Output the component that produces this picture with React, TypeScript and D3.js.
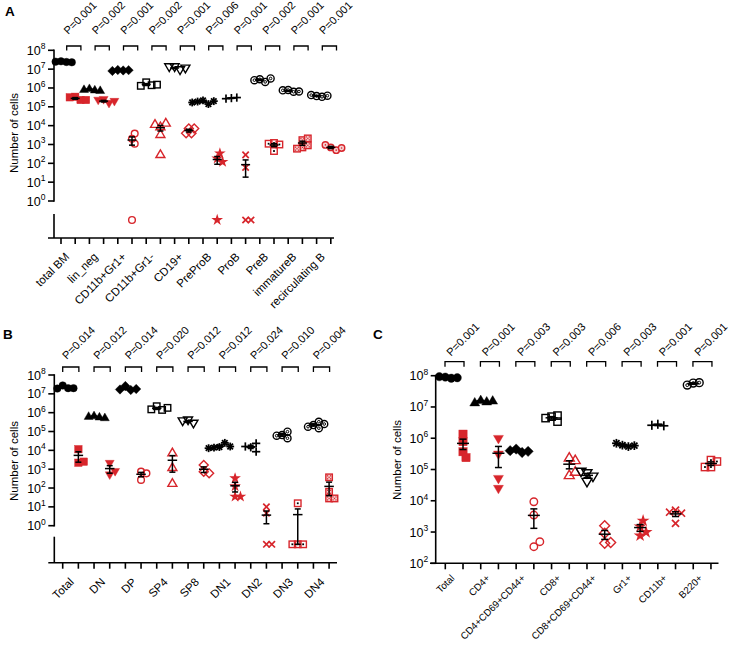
import React from "react";
import * as d3 from "d3";

const RED = "#d7252b";
const FONT = "'Liberation Sans', Arial, Helvetica, sans-serif";

// ---------- Panel A data ----------
const catsA = ["total BM", "lin_neg", "CD11b+Gr1+", "CD11b+Gr1-", "CD19+", "PreProB", "ProB", "PreB", "immatureB", "recirculating B"];
const ctrlA = [
  [2.6e7, 2.4e7, 2.5e7, 2.3e7],
  [9.5e5, 8e5, 8.5e5, 7.5e5],
  [9e6, 8.5e6, 8e6, 8.8e6],
  [2e6, 1.4e6, 1.3e6, 1.5e6],
  [1.3e7, 9e6, 1.3e7, 1.1e7],
  [2.2e5, 1.4e5, 1.9e5, 2.0e5, 1.7e5],
  [2.9e5, 3.1e5, 2.7e5],
  [2.9e6, 2.1e6, 2.6e6, 3.2e6],
  [7.8e5, 6.3e5, 7.5e5, 6.5e5],
  [3.7e5, 3.4e5, 4.2e5, 3.9e5],
];
const koA = [
  [3.4e5, 2.3e5, 3.2e5, 2.3e5],
  [2.4e5, 1.5e5, 2.2e5, 1.9e5],
  [2000, 1100, 3800, 0],
  [9000, 14000, 3500, 300, 12000],
  [7100, 7100, 3900, 3900],
  [180, 340, 120, 0],
  [280, 60, 0, 0],
  [1200, 1000, 450, 1100],
  [1700, 2100, 700, 900, 600],
  [700, 500, 950, 650],
];
const pA = ["0.001", "0.002", "0.001", "0.002", "0.001", "0.006", "0.001", "0.002", "0.001", "0.001"];

// ---------- Panel B data ----------
const catsB = ["Total", "DN", "DP", "SP4", "SP8", "DN1", "DN2", "DN3", "DN4"];
const ctrlB = [
  [2.8e7, 2e7, 1.9e7, 2e7],
  [7e5, 6e5, 6.5e5, 5.5e5],
  [2.6e7, 1.6e7, 1.7e7, 1.8e7],
  [2.2e6, 1.4e6, 1.5e6, 1.8e6],
  [4e5, 2.7e5, 3.6e5],
  [1.5e4, 2.5e4, 1.4e4, 1.6e4, 1.3e4],
  [1.45e4, 2.35e4, 8500, 1.6e4],
  [6.5e4, 9.8e4, 4.4e4, 6e4],
  [2.2e5, 3.3e5, 1.8e5, 1.5e5, 2.5e5],
];
const koB = [
  [11500, 2200, 2500],
  [2000, 490, 740],
  [740, 600, 270],
  [7500, 1250, 180],
  [1650, 740, 600],
  [125, 330, 35, 35],
  [10, 4.6, 0, 0],
  [15.5, 0, 0, 0],
  [370, 63, 28, 28],
];
const pB = ["0.014", "0.012", "0.014", "0.020", "0.012", "0.012", "0.024", "0.010", "0.004"];

// ---------- Panel C data ----------
const catsC = ["Total", "CD4+", "CD4+CD69+CD44+", "CD8+", "CD8+CD69+CD44+", "Gr1+", "CD11b+", "B220+"];
const ctrlC = [
  [9e7, 8.3e7, 9.3e7, 8.6e7],
  [1.66e7, 1.5e7, 1.4e7, 1.6e7],
  [4.5e5, 3.5e5, 4e5, 3.8e5],
  [4.9e6, 5.3e6, 3.4e6, 4.4e6],
  [7.6e4, 5.9e4, 8.5e4, 4e4],
  [6e5, 5.4e5, 6.9e5, 5.8e5],
  [2.8e6, 2.5e6, 2.6e6],
  [5.8e7, 6e7, 5e7],
];
const koC = [
  [1.35e6, 7.8e5, 3.7e5, 2.4e5],
  [9.5e5, 5e4, 2.4e4, 3e5],
  [9300, 3500, 340, 490],
  [2.4e5, 2e5, 6.6e4, 8.5e4],
  [1600, 910, 440, 460],
  [1500, 2300, 770, 990],
  [5000, 4000, 4300, 1900],
  [2e5, 1.8e5, 1.2e5, 1.2e5],
];
const pC = ["0.001", "0.001", "0.003", "0.003", "0.006", "0.003", "0.001", "0.001"];

// ---------- layouts ----------
const layoutA = {
  letter: "A", letterX: 5, letterY: 16,
  x0: 61, step: 14.2, yAxisX: 54, yTop: 50.3, yBottom: 201, minDec: 0,
  breakTop: 214, zeroY: 220, axisY: 238, axisX0: 48, axisX1: 334,
  bracketY: 46, bracketH: 4.5, bracketL: 5.7, bracketR: 5.7,
  pDx: 1.5, pDy: -11, pFont: 11,
  labelDx: 2, labelDy: 19.5, labelFont: 11.5,
  titleX: 17.5, titleY: 133,
  s: 7.5, meanW: 9, capW: 6, tickLen: 6,
};
const layoutB = {
  letter: "B", letterX: 3, letterY: 339,
  x0: 62.7, step: 15.67, yAxisX: 54.3, yTop: 375, yBottom: 525.7, minDec: 0,
  breakTop: 536.7, zeroY: 544.3, axisY: 562.7, axisX0: 48.3, axisX1: 337,
  bracketY: 367, bracketH: 5, bracketL: 0, bracketR: 0.5,
  pDx: 4, pDy: -7, pFont: 11,
  labelDx: 4, labelDy: 20, labelFont: 11.5,
  titleX: 17.5, titleY: 461,
  s: 7.5, meanW: 9.5, capW: 6, tickLen: 6,
};
const layoutC = {
  letter: "C", letterX: 373, letterY: 339,
  x0: 445.3, step: 17.71, yAxisX: 435.7, yTop: 375.7, yBottom: 563.3, minDec: 2,
  breakTop: null, zeroY: null, axisY: 563.3, axisX0: 430, axisX1: 718.5,
  bracketY: 361.7, bracketH: 5, bracketL: -0.3, bracketR: 1,
  pDx: 6, pDy: -5, pFont: 11,
  labelDx: 1, labelDy: 15.5, labelFont: 9.8,
  titleX: 401, titleY: 460,
  s: 8.3, meanW: 12, capW: 7, tickLen: 5,
};

function triPts(x: number, y: number, h: number, dir: number) {
  const a = h * 1.2;
  return `${x},${y - dir * a} ${x - a},${y + dir * h * 0.85} ${x + a},${y + dir * h * 0.85}`;
}
function diaPts(x: number, y: number, h: number) {
  return `${x},${y - h} ${x + h},${y} ${x},${y + h} ${x - h},${y}`;
}

function Marker({ shape, x, y, s, color }: any) {
  const h = s / 2;
  const sw = 1.4;
  const open = { fill: "none", stroke: color, strokeWidth: sw };
  const solid = { fill: color, stroke: color, strokeWidth: 0.4 };
  switch (shape) {
    case 0:
      return <circle cx={x} cy={y} r={h} {...solid} />;
    case 1:
      return <rect x={x - h} y={y - h} width={s} height={s} {...solid} />;
    case 2:
      return <polygon points={triPts(x, y, h, 1)} {...solid} />;
    case 3:
      return <polygon points={triPts(x, y, h, -1)} {...solid} />;
    case 4:
      return <polygon points={diaPts(x, y, h * 1.25)} {...solid} />;
    case 5:
      return <circle cx={x} cy={y} r={h - sw / 2 + 0.3} {...open} />;
    case 6:
      return <rect x={x - h + 0.5} y={y - h + 0.5} width={s - 1} height={s - 1} {...open} />;
    case 7:
      return <polygon points={triPts(x, y, h, 1)} {...open} />;
    case 8:
      return <polygon points={triPts(x, y, h, -1)} {...open} />;
    case 9:
      return <polygon points={diaPts(x, y, h * 1.2)} {...open} />;
    case 10: {
      const r = h * 1.05;
      return (
        <g stroke={color} strokeWidth={1.8}>
          {[0, 45, 90, 135].map((a) => {
            const rad = (a * Math.PI) / 180;
            return <line key={a} x1={x - r * Math.cos(rad)} y1={y - r * Math.sin(rad)} x2={x + r * Math.cos(rad)} y2={y + r * Math.sin(rad)} />;
          })}
        </g>
      );
    }
    case 11: {
      const p = d3.symbol().type(d3.symbolStar).size(s * s * 0.75)() as string;
      return <path d={p} transform={`translate(${x},${y})`} fill={color} />;
    }
    case 12:
      return (
        <g stroke={color} strokeWidth={1.7}>
          <line x1={x - h * 1.1} y1={y} x2={x + h * 1.1} y2={y} />
          <line x1={x} y1={y - h * 1.1} x2={x} y2={y + h * 1.1} />
        </g>
      );
    case 13:
      return (
        <g stroke={color} strokeWidth={1.7}>
          <line x1={x - h * 0.85} y1={y - h * 0.85} x2={x + h * 0.85} y2={y + h * 0.85} />
          <line x1={x - h * 0.85} y1={y + h * 0.85} x2={x + h * 0.85} y2={y - h * 0.85} />
        </g>
      );
    case 14:
    case 16:
    case 18:
      return (
        <g {...open}>
          <circle cx={x} cy={y} r={h - 0.2} />
          <circle cx={x} cy={y} r={h * 0.35} strokeWidth={1} />
        </g>
      );
    case 15:
      return (
        <g>
          <rect x={x - h + 0.5} y={y - h + 0.5} width={s - 1} height={s - 1} {...open} />
          <rect x={x - 0.9} y={y - 0.9} width={1.8} height={1.8} fill="#000" />
        </g>
      );
    case 17:
      return (
        <g>
          <rect x={x - h + 0.5} y={y - h + 0.5} width={s - 1} height={s - 1} {...open} fill="#f3c9ca" />
          {[[-1, -1], [1, -1], [-1, 1], [1, 1], [0, 0]].map(([a, b], i) => (
            <rect key={i} x={x + a * h * 0.4 - 0.6} y={y + b * h * 0.4 - 0.6} width={1.2} height={1.2} fill={color} />
          ))}
        </g>
      );
    default:
      return (
        <g>
          <circle cx={x} cy={y} r={h * 0.85} {...open} fill="#f6d3d4" />
          <circle cx={x} cy={y} r={0.8} fill={color} />
        </g>
      );
  }
}

function swarm(ys: number[], minD: number, step: number) {
  const placed: { dx: number; y: number }[] = [];
  const cands = [0];
  for (let k = 1; k < 12; k++) cands.push(k * step, -k * step);
  ys.forEach((yy) => {
    for (const c of cands) {
      if (placed.every((p) => Math.hypot(p.dx - c, p.y - yy) >= minD)) {
        placed.push({ dx: c, y: yy });
        return;
      }
    }
    placed.push({ dx: 0, y: yy });
  });
  return placed;
}

function Panel({ cats, ctrl, ko, pvals, L }: any) {
  const n = cats.length;
  const y = d3.scaleLog().domain([Math.pow(10, L.minDec), 1e8]).range([L.yBottom, L.yTop]);
  const x = d3.scaleLinear().domain([0, 2 * n - 1]).range([L.x0, L.x0 + L.step * (2 * n - 1)]);
  const floorV = Math.pow(10, L.minDec);
  const yPos = (v: number) => (v >= floorV ? y(v) : L.zeroY ?? L.yBottom);
  const decades = d3.range(L.minDec, 9);
  const cols: any[] = [];
  for (let i = 0; i < n; i++) {
    cols.push({ vals: ctrl[i], color: "#000", idx: 2 * i });
    cols.push({ vals: ko[i], color: RED, idx: 2 * i + 1 });
  }
  const sw = 1.6;
  return (
    <g fontFamily={FONT}>
      <text x={L.letterX} y={L.letterY} fontSize={13.5} fontWeight="bold">{L.letter}</text>
      {/* y axis */}
      <line x1={L.yAxisX} x2={L.yAxisX} y1={L.yTop - 0.8} y2={L.breakTop != null ? L.yBottom + 0.8 : L.axisY} stroke="#000" strokeWidth={sw} />
      {L.breakTop != null && (
        <line x1={L.yAxisX} x2={L.yAxisX} y1={L.breakTop} y2={L.axisY} stroke="#000" strokeWidth={sw} />
      )}
      {decades.map((d: number) => (
        <g key={d}>
          <line x1={L.yAxisX - L.tickLen} x2={L.yAxisX} y1={y(Math.pow(10, d))} y2={y(Math.pow(10, d))} stroke="#000" strokeWidth={sw} />
          <text x={L.yAxisX - L.tickLen - 2.5} y={y(Math.pow(10, d)) + 4.5} textAnchor="end" fontSize={12.5}>
            10<tspan dy={-5.5} fontSize={8.5}>{d}</tspan>
          </text>
        </g>
      ))}
      <text x={L.titleX} y={L.titleY} transform={`rotate(-90 ${L.titleX} ${L.titleY})`} textAnchor="middle" fontSize={11.5}>Number of cells</text>
      {/* x axis */}
      <line x1={L.axisX0} x2={L.axisX1} y1={L.axisY} y2={L.axisY} stroke="#000" strokeWidth={sw} />
      {cols.map((c, j) => (
        <line key={j} x1={x(j)} x2={x(j)} y1={L.axisY} y2={L.axisY + 6} stroke="#000" strokeWidth={sw} />
      ))}
      {cats.map((c: string, i: number) => {
        const cx = (x(2 * i) + x(2 * i + 1)) / 2 + L.labelDx;
        const cy = L.axisY + L.labelDy;
        return (
          <text key={c} x={cx} y={cy} transform={`rotate(-45 ${cx} ${cy})`} textAnchor="end" fontSize={L.labelFont}>{c}</text>
        );
      })}
      {/* brackets and p values */}
      {pvals.map((p: string, i: number) => {
        const l = x(2 * i) + L.bracketL;
        const r = x(2 * i + 1) + L.bracketR;
        const px = l + L.pDx;
        const py = L.bracketY + L.pDy;
        return (
          <g key={i}>
            <path d={`M${l},${L.bracketY + L.bracketH}V${L.bracketY}H${r}V${L.bracketY + L.bracketH}`} fill="none" stroke="#000" strokeWidth={1.3} />
            <text x={px} y={py} transform={`rotate(-45 ${px} ${py})`} textAnchor="start" fontSize={L.pFont}>{"P=" + p}</text>
          </g>
        );
      })}
      {/* points + error bars */}
      {cols.map((c, j) => {
        const cx = x(j);
        const ys = c.vals.map(yPos);
        const pos = swarm(ys, L.s * 0.72, L.s * 0.36);
        const m = d3.mean(c.vals) as number;
        const se = (d3.deviation(c.vals) ?? 0) / Math.sqrt(c.vals.length);
        const yt = yPos(m + se);
        const yb = m - se >= floorV ? y(m - se) : L.zeroY ?? L.yBottom;
        const ym = yPos(m);
        return (
          <g key={j}>
            {pos.map((p, k) => (
              <Marker key={k} shape={c.idx} x={cx + p.dx} y={p.y} s={L.s} color={c.color} />
            ))}
            <g stroke="#000" strokeWidth={1.5}>
              <line x1={cx} x2={cx} y1={yt} y2={yb} />
              <line x1={cx - L.capW / 2} x2={cx + L.capW / 2} y1={yt} y2={yt} />
              <line x1={cx - L.capW / 2} x2={cx + L.capW / 2} y1={yb} y2={yb} />
              <line x1={cx - L.meanW / 2} x2={cx + L.meanW / 2} y1={ym} y2={ym} />
            </g>
          </g>
        );
      })}
    </g>
  );
}

export default function App() {
  return (
    <svg width={736} height={645} style={{ position: "absolute", left: 0, top: 0, background: "#fff" }}>
      <rect width={736} height={645} fill="#fff" />
      <Panel cats={catsA} ctrl={ctrlA} ko={koA} pvals={pA} L={layoutA} />
      <Panel cats={catsB} ctrl={ctrlB} ko={koB} pvals={pB} L={layoutB} />
      <Panel cats={catsC} ctrl={ctrlC} ko={koC} pvals={pC} L={layoutC} />
    </svg>
  );
}
